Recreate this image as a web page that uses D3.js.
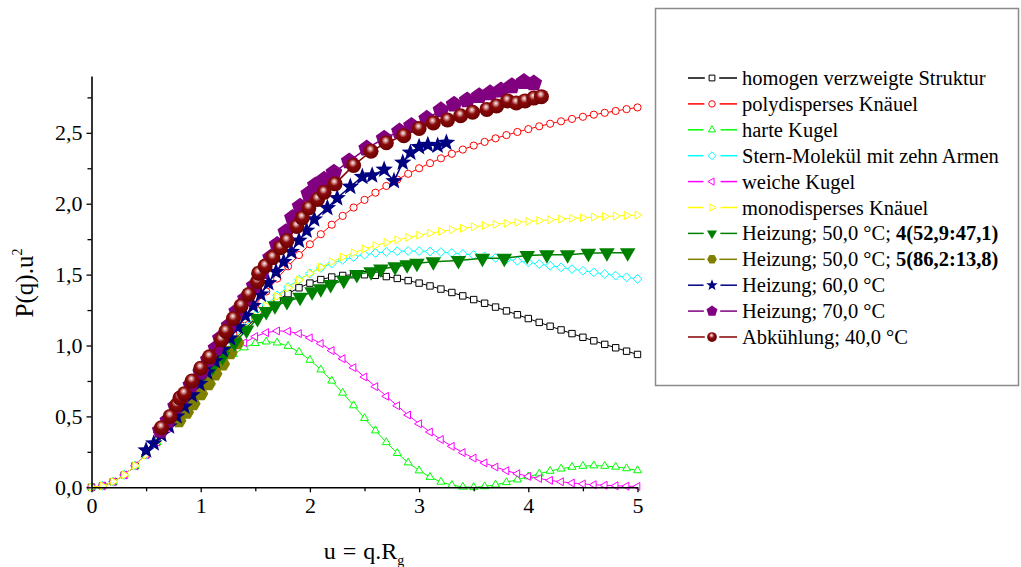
<!DOCTYPE html>
<html><head><meta charset="utf-8">
<script src="https://cdn.jsdelivr.net/npm/d3@7"></script>
<style>
html,body{margin:0;padding:0;background:#fff;}
svg{display:block;}
text{font-family:"Liberation Serif","Times New Roman",serif;fill:#000;}
</style></head>
<body>
<svg id="chart" width="1021" height="567"></svg>
<script>
// ---------- data ----------
const uGrid = [0,0.1,0.2,0.3,0.4,0.5,0.6,0.7,0.8,0.9,1.0,1.1,1.2,1.3,1.4,1.5,1.6,1.7,1.8,1.9,2.0,2.1,2.2,2.3,2.4,2.5,2.6,2.7,2.8,2.9,3.0,3.1,3.2,3.3,3.4,3.5,3.6,3.7,3.8,3.9,4.0,4.1,4.2,4.3,4.4,4.5,4.6,4.7,4.8,4.9,5.0];
const homogenVerzweigt = [0,0.010,0.039,0.087,0.152,0.230,0.320,0.419,0.523,0.629,0.735,0.838,0.937,1.029,1.114,1.190,1.258,1.316,1.366,1.407,1.440,1.465,1.483,1.494,1.499,1.499,1.495,1.486,1.473,1.458,1.440,1.420,1.398,1.374,1.350,1.324,1.298,1.271,1.244,1.217,1.190,1.163,1.136,1.110,1.084,1.058,1.033,1.008,0.984,0.960,0.937];
const polyKnaeuel = [0,0.010,0.040,0.087,0.152,0.231,0.321,0.421,0.528,0.638,0.750,0.862,0.973,1.081,1.186,1.286,1.381,1.472,1.558,1.638,1.714,1.785,1.852,1.914,1.973,2.027,2.078,2.125,2.170,2.211,2.250,2.286,2.320,2.352,2.382,2.410,2.436,2.461,2.484,2.506,2.526,2.546,2.564,2.581,2.598,2.613,2.628,2.641,2.654,2.667,2.679];
const harteKugel = [0,0.010,0.039,0.087,0.152,0.230,0.319,0.415,0.515,0.615,0.711,0.798,0.875,0.939,0.986,1.016,1.027,1.020,0.996,0.954,0.898,0.830,0.751,0.666,0.577,0.487,0.400,0.317,0.241,0.174,0.118,0.072,0.038,0.015,0.003,0.000,0.006,0.018,0.035,0.054,0.076,0.096,0.115,0.131,0.143,0.150,0.153,0.150,0.144,0.133,0.119];
const sternMolekuel = [0,0.010,0.039,0.087,0.152,0.230,0.321,0.419,0.524,0.631,0.738,0.843,0.945,1.041,1.130,1.212,1.287,1.354,1.413,1.464,1.509,1.547,1.578,1.604,1.624,1.640,1.652,1.660,1.665,1.667,1.666,1.663,1.659,1.653,1.646,1.638,1.628,1.618,1.608,1.597,1.586,1.574,1.563,1.551,1.539,1.527,1.516,1.504,1.493,1.481,1.470];
const weicheKugel = [0,0.010,0.039,0.087,0.152,0.230,0.319,0.416,0.517,0.618,0.717,0.808,0.891,0.962,1.020,1.063,1.091,1.103,1.100,1.084,1.054,1.014,0.964,0.907,0.844,0.778,0.710,0.642,0.575,0.510,0.448,0.390,0.337,0.289,0.245,0.206,0.172,0.143,0.117,0.096,0.077,0.062,0.049,0.039,0.030,0.024,0.018,0.014,0.011,0.008,0.006];
const monoKnaeuel = [0,0.010,0.040,0.087,0.152,0.230,0.320,0.419,0.523,0.629,0.736,0.840,0.940,1.035,1.123,1.205,1.279,1.346,1.407,1.461,1.509,1.552,1.590,1.624,1.654,1.681,1.705,1.726,1.745,1.762,1.778,1.792,1.805,1.816,1.827,1.837,1.846,1.854,1.862,1.869,1.875,1.881,1.887,1.892,1.897,1.901,1.906,1.910,1.913,1.917,1.920];

const heiz50aU = [0.88,1.00,1.11,1.20,1.31,1.42,1.52,1.60,1.68,1.79,1.91,2.02,2.10,2.19,2.31,2.43,2.56,2.65,2.78,2.89,2.98,3.13,3.36,3.58,3.78,3.99,4.17,4.36,4.55,4.72,4.91];
const heiz50aV = [0.67,0.76,0.85,0.92,1.02,1.11,1.19,1.24,1.28,1.31,1.34,1.38,1.40,1.43,1.46,1.50,1.52,1.54,1.555,1.57,1.58,1.59,1.60,1.615,1.615,1.635,1.64,1.64,1.65,1.655,1.655];
const heiz50bU = [0.80,0.87,0.93,1.00,1.07,1.13,1.20,1.27,1.33];
const heiz50bV = [0.47,0.53,0.59,0.66,0.73,0.80,0.87,0.95,1.02];
const heiz60U = [0.50,0.57,0.64,0.71,0.78,0.85,0.92,0.99,1.06,1.13,1.20,1.27,1.34,1.41,1.48,1.55,1.62,1.69,1.76,1.83,1.90,1.97,2.04,2.16,2.25,2.37,2.48,2.57,2.68,2.77,2.85,2.92,3.00,3.08,3.17,3.25];
const heiz60V = [0.26,0.31,0.37,0.43,0.50,0.57,0.65,0.73,0.81,0.89,0.97,1.05,1.13,1.21,1.28,1.36,1.44,1.52,1.59,1.66,1.74,1.81,1.89,1.97,2.04,2.12,2.19,2.20,2.24,2.16,2.29,2.36,2.40,2.415,2.41,2.43];
const heiz70U = [0.63,0.70,0.77,0.83,0.91,1.00,1.07,1.14,1.18,1.26,1.33,1.41,1.49,1.56,1.64,1.70,1.78,1.84,1.91,1.99,2.05,2.13,2.22,2.36,2.52,2.68,2.82,2.93,3.07,3.20,3.32,3.44,3.55,3.65,3.75,3.85,3.96,4.05];
const heiz70V = [0.40,0.47,0.57,0.64,0.72,0.81,0.90,0.98,1.05,1.14,1.24,1.33,1.42,1.52,1.62,1.71,1.80,1.90,1.98,2.07,2.13,2.17,2.22,2.30,2.39,2.46,2.51,2.55,2.60,2.66,2.70,2.73,2.76,2.78,2.80,2.83,2.86,2.85];
const abkU = [0.64,0.72,0.78,0.81,0.85,0.92,1.00,1.08,1.19,1.23,1.30,1.37,1.44,1.52,1.53,1.59,1.66,1.73,1.79,1.88,1.93,1.99,2.07,2.13,2.23,2.40,2.56,2.70,2.86,3.00,3.13,3.26,3.38,3.49,3.62,3.71,3.81,3.89,3.97,4.05,4.12];
const abkV = [0.42,0.50,0.58,0.63,0.66,0.75,0.84,0.92,1.04,1.10,1.19,1.28,1.36,1.45,1.51,1.56,1.62,1.69,1.74,1.84,1.90,1.97,2.03,2.08,2.14,2.27,2.37,2.43,2.48,2.53,2.57,2.59,2.62,2.645,2.665,2.69,2.725,2.71,2.725,2.745,2.755];

const xTicks = [0,1,2,3,4,5];
const xMinor = [0.5,1.5,2.5,3.5,4.5];
const yTicks = [0,0.5,1.0,1.5,2.0,2.5];
const yMinor = [0.25,0.75,1.25,1.75,2.25,2.75];

const legendLabels = [
  ["homogen verzweigte Struktur"],
  ["polydisperses Knäuel"],
  ["harte Kugel"],
  ["Stern-Molekül mit zehn Armen"],
  ["weiche Kugel"],
  ["monodisperses Knäuel"],
  ["Heizung; 50,0 °C; ","4(52,9:47,1)"],
  ["Heizung; 50,0 °C; ","5(86,2:13,8)"],
  ["Heizung; 60,0 °C"],
  ["Heizung; 70,0 °C"],
  ["Abkühlung; 40,0 °C"]
];

// ---------- setup ----------
const svg = d3.select("#chart");
const x = d3.scaleLinear().domain([0,5]).range([91.5,637.5]);
const y = d3.scaleLinear().domain([0,2.9]).range([487.3,76.1]);

const defs = svg.append("defs");
const grad = defs.append("radialGradient").attr("id","sphere")
  .attr("cx","45%").attr("cy","40%").attr("r","60%").attr("fx","45%").attr("fy","32%");
grad.append("stop").attr("offset","0%").attr("stop-color","#fff0f0");
grad.append("stop").attr("offset","20%").attr("stop-color","#d09090");
grad.append("stop").attr("offset","45%").attr("stop-color","#8a0a0a");
grad.append("stop").attr("offset","100%").attr("stop-color","#6a0000");

function poly(n, r, rot){
  const pts=[];
  for(let i=0;i<n;i++){const a=rot+i*2*Math.PI/n;pts.push([r*Math.cos(a),r*Math.sin(a)]);}
  return "M"+pts.map(p=>p[0].toFixed(2)+","+p[1].toFixed(2)).join("L")+"Z";
}
function starPath(r){
  const pts=[];
  for(let i=0;i<10;i++){const a=-Math.PI/2+i*Math.PI/5;const rr=i%2?r*0.42:r;pts.push([rr*Math.cos(a),rr*Math.sin(a)]);}
  return "M"+pts.map(p=>p[0].toFixed(2)+","+p[1].toFixed(2)).join("L")+"Z";
}
function shape(type, r){
  switch(type){
    case "square": return `M${-r},${-r}H${r}V${r}H${-r}Z`;
    case "circle": return `M${-r},0A${r},${r} 0 1,0 ${r},0A${r},${r} 0 1,0 ${-r},0Z`;
    case "triUp": return poly(3,r,-Math.PI/2);
    case "triDown": return poly(3,r,Math.PI/2);
    case "triLeft": return poly(3,r,Math.PI);
    case "triRight": return poly(3,r,0);
    case "diamond": return poly(4,r,-Math.PI/2);
    case "star": return starPath(r);
    case "pentagon": return poly(5,r,-Math.PI/2);
    case "hexagon": return poly(6,r,0);
  }
}

const series = [
  {u:uGrid, v:homogenVerzweigt, color:"#000000", shape:"square", r:3.2, fill:"#fff", lw:1, sw:1},
  {u:uGrid, v:polyKnaeuel, color:"#ff0000", shape:"circle", r:3.6, fill:"#fff", lw:1, sw:1},
  {u:uGrid, v:harteKugel, color:"#00ff00", shape:"triUp", r:4.6, fill:"#fff", lw:1, sw:1},
  {u:uGrid, v:sternMolekuel, color:"#00ffff", shape:"diamond", r:4.4, fill:"#fff", lw:1, sw:1},
  {u:uGrid, v:weicheKugel, color:"#ff00ff", shape:"triLeft", r:4.6, fill:"#fff", lw:1, sw:1},
  {u:uGrid, v:monoKnaeuel, color:"#ffff00", shape:"triRight", r:4.6, fill:"#fff", lw:1, sw:1},
  {u:heiz50aU, v:heiz50aV, color:"#008000", shape:"triDown", r:9, fill:"#008000", lw:1.5, sw:0},
  {u:heiz50bU, v:heiz50bV, color:"#808000", shape:"hexagon", r:7.6, fill:"#808000", lw:1.5, sw:0},
  {u:heiz60U, v:heiz60V, color:"#000080", shape:"star", r:9.2, fill:"#000080", lw:1.5, sw:0},
  {u:heiz70U, v:heiz70V, color:"#800080", shape:"pentagon", r:8.8, fill:"#800080", lw:1.5, sw:0},
  {u:abkU, v:abkV, color:"#800000", shape:"circle", r:7.5, fill:"url(#sphere)", lw:1.5, sw:0}
];
const drawOrder = [0,1,2,3,4,5,7,6,8,9,10];

const line = d3.line().x(d=>x(d[0])).y(d=>y(d[1]));
const plot = svg.append("g");
drawOrder.forEach(i=>{
  const s = series[i];
  const pts = s.u.map((u,k)=>[u,s.v[k]]);
  const g = plot.append("g");
  g.append("path").attr("d",line(pts)).attr("fill","none").attr("stroke",s.color).attr("stroke-width",s.lw);
  g.selectAll("path.m").data(pts).enter().append("path").attr("class","m")
    .attr("d",shape(s.shape,s.r))
    .attr("transform",d=>`translate(${x(d[0])},${y(d[1])})`)
    .attr("fill",s.fill).attr("stroke",s.sw?s.color:"none").attr("stroke-width",s.sw);
});

// ---------- axes ----------
const fmt = d => d.toFixed(1).replace(".",",");
svg.append("g").attr("transform",`translate(${x(0)},0)`)
  .call(d3.axisLeft(y).tickValues(yTicks).tickFormat(fmt).tickSize(5).tickSizeOuter(0).tickPadding(4));
svg.append("g").attr("transform",`translate(${x(0)},0)`)
  .call(d3.axisLeft(y).tickValues(yMinor).tickFormat("").tickSize(4).tickSizeOuter(0))
  .select(".domain").remove();
svg.append("g").attr("transform",`translate(0,${y(0)})`)
  .call(d3.axisBottom(x).tickValues(xTicks).tickFormat(d3.format("d")).tickSize(5).tickSizeOuter(0).tickPadding(5));
svg.append("g").attr("transform",`translate(0,${y(0)})`)
  .call(d3.axisBottom(x).tickValues(xMinor).tickFormat("").tickSize(4).tickSizeOuter(0))
  .select(".domain").remove();
svg.selectAll(".domain").attr("stroke","#000").attr("stroke-width",1.6);
svg.selectAll(".tick line").attr("stroke","#000").attr("stroke-width",1.3);
svg.selectAll(".tick text").attr("font-family","Liberation Serif").attr("font-size",22).attr("fill","#000");

// axis titles
const xt = svg.append("text").attr("x",364).attr("y",559).attr("text-anchor","middle").attr("font-size",24).attr("word-spacing",1);
xt.append("tspan").text("u = q.R");
xt.append("tspan").attr("dy",6).attr("font-size",14).text("g");
const yt = svg.append("text").attr("transform","translate(33,283) rotate(-90)").attr("text-anchor","middle").attr("font-size",25);
yt.append("tspan").text("P(q).u");
yt.append("tspan").attr("dy",-11).attr("font-size",14).text("2");

// ---------- legend ----------
svg.append("rect").attr("x",655.5).attr("y",8.5).attr("width",363).attr("height",377)
  .attr("fill","#fff").attr("stroke","#8a8a8a").attr("stroke-width",1.5);
const lg = svg.append("g");
legendLabels.forEach((lab,i)=>{
  const s = series[i];
  const cy = 78 + i*25.9;
  const row = lg.append("g").attr("transform",`translate(0,${cy})`);
  const open = s.sw>0;
  const gap = open ? s.r+4 : s.r*0.7+2;
  row.append("line").attr("x1",688).attr("x2",712-gap).attr("y1",0).attr("y2",0).attr("stroke",s.color).attr("stroke-width",1.5);
  row.append("line").attr("x1",712+gap).attr("x2",737).attr("y1",0).attr("y2",0).attr("stroke",s.color).attr("stroke-width",1.5);
  const lr = open ? s.r*0.9 : s.r*0.65;
  row.append("path").attr("d",shape(s.shape,lr)).attr("transform","translate(712,0)")
    .attr("fill",s.fill).attr("stroke",open?s.color:"none").attr("stroke-width",1);
  const t = row.append("text").attr("x",742).attr("y",7).attr("font-size",20.5);
  t.append("tspan").text(lab[0]);
  if(lab[1]) t.append("tspan").attr("font-weight","bold").text(lab[1]);
});
</script>
</body></html>
